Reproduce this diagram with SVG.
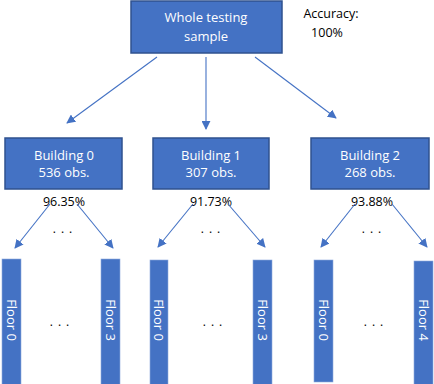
<svg xmlns="http://www.w3.org/2000/svg" width="434" height="384" viewBox="0 0 434 384">
<style>
.box{fill:#4472C4;stroke:#2F528F;stroke-width:1.5}
.bar{fill:#4472C4;stroke:#8FAADC;stroke-width:0.6}
.wt{font-family:"Open Sans","Liberation Sans",sans-serif;font-size:13px;fill:#ffffff;text-anchor:middle;dominant-baseline:central}
.bt{font-family:"Open Sans","Liberation Sans",sans-serif;font-size:12.5px;fill:#000000;text-anchor:middle;dominant-baseline:central}
.dots{font-family:"Open Sans","Liberation Sans",sans-serif;font-size:12px;fill:#000000;text-anchor:middle;dominant-baseline:central;letter-spacing:5px}
.con line{stroke:#4472C4;stroke-width:1.1;marker-end:url(#ah)}
</style>
<defs>
<marker id="ah" viewBox="0 0 10 10" refX="9" refY="5" markerWidth="9" markerHeight="9" markerUnits="userSpaceOnUse" orient="auto">
<path d="M0,0 L10,5 L0,10 z" fill="#4472C4"/>
</marker>
</defs>
<rect width="434" height="384" fill="#ffffff"/>
<g id="root">
<rect class="box" x="131" y="1" width="151" height="52"/>
<text class="wt" x="206" y="17">Whole testing</text>
<text class="wt" x="206" y="36">sample</text>
</g>
<g id="accuracy">
<text class="bt" x="331" y="13">Accuracy:</text>
<text class="bt" x="327" y="32">100%</text>
</g>
<g id="b0">
<rect class="box" x="5" y="138" width="117" height="51"/>
<text class="wt" x="64" y="155">Building 0</text>
<text class="wt" x="64" y="172">536 obs.</text>
<text class="bt" x="64" y="201">96.35%</text>
<text class="dots" x="65" y="228">...</text>
</g>
<g id="b1">
<rect class="box" x="153" y="138" width="116" height="51"/>
<text class="wt" x="211" y="155">Building 1</text>
<text class="wt" x="211" y="172">307 obs.</text>
<text class="bt" x="211" y="201">91.73%</text>
<text class="dots" x="213" y="228">...</text>
</g>
<g id="b2">
<rect class="box" x="311" y="138" width="118" height="51"/>
<text class="wt" x="370" y="155">Building 2</text>
<text class="wt" x="370" y="172">268 obs.</text>
<text class="bt" x="372" y="201">93.88%</text>
<text class="dots" x="374" y="228">...</text>
</g>
<g id="b0f0"><rect class="bar" x="2" y="259" width="19" height="126"/><text class="wt" transform="translate(11.5,320) rotate(90)">Floor 0</text></g>
<g id="b0f3"><rect class="bar" x="101" y="259" width="19" height="126"/><text class="wt" transform="translate(110.5,320) rotate(90)">Floor 3</text></g>
<text class="dots" x="62" y="321">...</text>
<g id="b1f0"><rect class="bar" x="150" y="260" width="18" height="125"/><text class="wt" transform="translate(159,320) rotate(90)">Floor 0</text></g>
<g id="b1f3"><rect class="bar" x="253" y="260" width="19" height="125"/><text class="wt" transform="translate(262.5,320) rotate(90)">Floor 3</text></g>
<text class="dots" x="215" y="321">...</text>
<g id="b2f0"><rect class="bar" x="314" y="260" width="19" height="122"/><text class="wt" transform="translate(323.5,320) rotate(90)">Floor 0</text></g>
<g id="b2f4"><rect class="bar" x="414" y="261" width="19" height="124"/><text class="wt" transform="translate(423.5,320) rotate(90)">Floor 4</text></g>
<text class="dots" x="376" y="321">...</text>
<g id="connectors" class="con">
<line x1="157" y1="57" x2="67" y2="123"/>
<line x1="206" y1="57" x2="206" y2="129"/>
<line x1="255" y1="57" x2="336" y2="118"/>
<line x1="50" y1="204" x2="15" y2="248"/>
<line x1="77" y1="204" x2="113" y2="248"/>
<line x1="193" y1="204" x2="158" y2="247"/>
<line x1="228" y1="204" x2="265" y2="247"/>
<line x1="355" y1="204" x2="321" y2="247"/>
<line x1="392" y1="204" x2="427" y2="247"/>
</g>
</svg>
